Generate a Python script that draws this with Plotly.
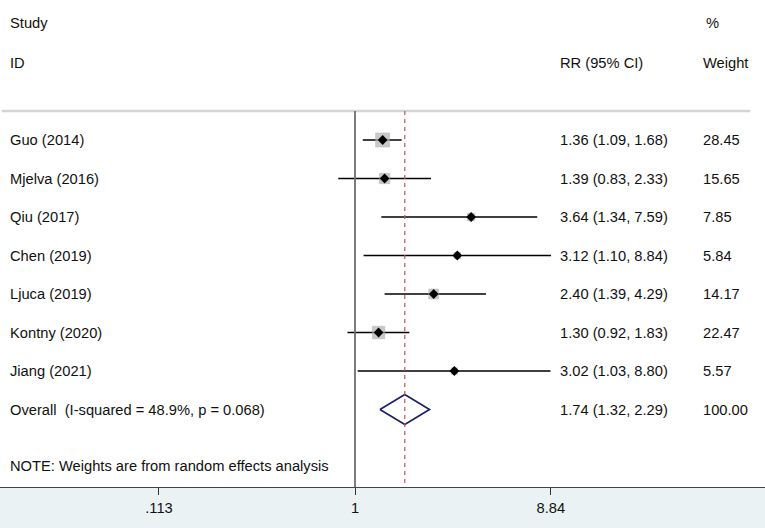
import plotly.graph_objects as go
import numpy as np

studies = ["Guo (2014)", "Mjelva (2016)", "Qiu (2017)", "Chen (2019)",
           "Ljuca (2019)", "Kontny (2020)", "Jiang (2021)"]
rr = [1.36, 1.39, 3.64, 3.12, 2.40, 1.30, 3.02]
lo = [1.09, 0.83, 1.34, 1.10, 1.39, 0.92, 1.03]
hi = [1.68, 2.33, 7.59, 8.84, 4.29, 1.83, 8.80]
weights = [28.45, 15.65, 7.85, 5.84, 14.17, 22.47, 5.57]
overall_label = "Overall  (I-squared = 48.9%, p = 0.068)"
overall_rr, overall_lo, overall_hi, overall_w = 1.74, 1.32, 2.29, 100.00
null_value = 1
tick_vals = [0.113, 1, 8.84]
tick_text = [".113", "1", "8.84"]
note = "NOTE: Weights are from random effects analysis"

W, H = 765, 528
band_h = 41
plot_h = H - band_h
row_px = 38.5
row0_px = 101.5  # page y of row 0
px_per_dec = 207.0
one_px = 355.0

x_range = [-one_px / px_per_dec, (W - one_px) / px_per_dec]
y_top = -row0_px / row_px
y_bot = (plot_h - row0_px) / row_px

rows = list(range(1, len(studies) + 1))
overall_row = len(studies) + 1

FONT = "Arial, Liberation Sans, sans-serif"
TXT = "#111111"
FS = 14.7

fig = go.Figure()

# CI lines
for r, l, h in zip(rows, lo, hi):
    fig.add_trace(go.Scatter(x=[l, h], y=[r, r], mode="lines",
                             line=dict(color="black", width=1.7),
                             hoverinfo="skip", showlegend=False))

# weight squares
sizes = [2.6 * np.sqrt(w) for w in weights]
fig.add_trace(go.Scatter(x=rr, y=rows, mode="markers",
                         marker=dict(symbol="square", size=sizes, color="#B2B2B2",
                                     line=dict(width=0.8, color="#A6A6A6")),
                         hoverinfo="skip", showlegend=False))
# point estimates
fig.add_trace(go.Scatter(x=rr, y=rows, mode="markers",
                         marker=dict(symbol="diamond", size=7.5, color="black",
                                     line=dict(width=0)),
                         hoverinfo="skip", showlegend=False))

# overall diamond
dh = 0.39
fig.add_trace(go.Scatter(
    x=[overall_lo, overall_rr, overall_hi, overall_rr, overall_lo],
    y=[overall_row, overall_row - dh, overall_row, overall_row + dh, overall_row],
    mode="lines", line=dict(color="#1B2266", width=1.7),
    hoverinfo="skip", showlegend=False))

shapes = []
# bottom band
shapes.append(dict(type="rect", xref="paper", yref="paper", x0=0, x1=1,
                   y0=-band_h / plot_h, y1=0, fillcolor="#EAF2F3",
                   line=dict(width=0), layer="below"))
# top gray separator
top_line_row = (111 - row0_px) / row_px
shapes.append(dict(type="line", xref="paper", yref="y", x0=2 / W, x1=750 / W,
                   y0=top_line_row, y1=top_line_row,
                   line=dict(color="#D4D4D4", width=2.5)))
# null line
shapes.append(dict(type="line", xref="x", yref="y", x0=null_value, x1=null_value,
                   y0=top_line_row, y1=y_bot,
                   line=dict(color="#6E6E6E", width=1.8)))
# overall dashed line
shapes.append(dict(type="line", xref="x", yref="y", x0=overall_rr, x1=overall_rr,
                   y0=top_line_row, y1=y_bot,
                   line=dict(color="#C8505A", width=1.2, dash="4px,4px")))

ann = []
def txt(x_px, y_row, s):
    ann.append(dict(x=x_px / W, xref="paper", y=y_row, yref="y", text=s,
                    showarrow=False, xanchor="left", yanchor="middle",
                    font=dict(family=FONT, size=FS, color=TXT)))

hdr1 = (23 - row0_px) / row_px
hdr2 = (63 - row0_px) / row_px
txt(8, hdr1, "Study")
txt(8, hdr2, "ID")
txt(704, hdr1, "%")
txt(558, hdr2, "RR (95% CI)")
txt(701, hdr2, "Weight")

for r, s, e, l, h, w in zip(rows, studies, rr, lo, hi, weights):
    txt(8, r, s)
    txt(558, r, f"{e:.2f} ({l:.2f}, {h:.2f})")
    txt(701, r, f"{w:.2f}")
txt(8, overall_row, overall_label)
txt(558, overall_row, f"{overall_rr:.2f} ({overall_lo:.2f}, {overall_hi:.2f})")
txt(701, overall_row, f"{overall_w:.2f}")
txt(8, (466 - row0_px) / row_px, note)

fig.update_layout(
    width=W, height=H,
    margin=dict(l=0, r=0, t=0, b=band_h, pad=0),
    paper_bgcolor="white", plot_bgcolor="white",
    shapes=shapes, annotations=ann,
    xaxis=dict(type="log", range=x_range, tickvals=tick_vals, ticktext=tick_text,
               showgrid=False, zeroline=False,
               showline=True, linecolor="#444444", linewidth=1.3,
               ticks="outside", ticklen=7, tickcolor="#333333", tickwidth=1.4,
               tickfont=dict(family=FONT, size=FS, color=TXT)),
    yaxis=dict(range=[y_bot, y_top], showgrid=False, zeroline=False,
               showticklabels=False, showline=False, ticks=""),
)

fig.write_html("out.html", config={"displayModeBar": False},
               post_script="document.body.style.margin='0';document.body.style.overflow='hidden';")
